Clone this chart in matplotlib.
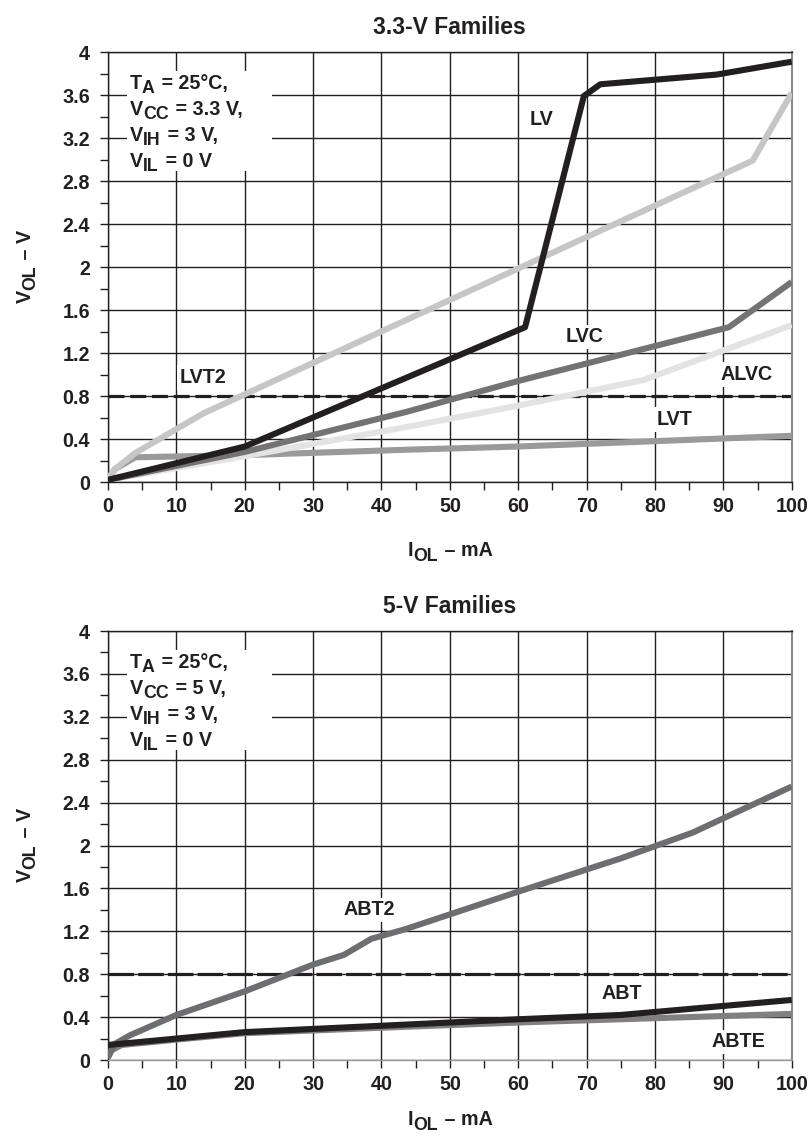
import matplotlib
matplotlib.use('Agg')
import matplotlib.pyplot as plt
import numpy as np
from matplotlib.patches import Rectangle
from matplotlib.transforms import Affine2D

plt.rcParams['font.family'] = ['Liberation Sans', 'DejaVu Sans']
plt.rcParams['font.weight'] = 'bold'

# 3.3-V families, I_OL (mA) vs V_OL (V)
lv_i = [0, 20, 61, 69.6, 72, 89, 100]
lv_v = [0.02, 0.33, 1.44, 3.59, 3.70, 3.79, 3.91]
lvt2_i = [0, 1, 4, 14, 94.3, 100]
lvt2_v = [0.03, 0.12, 0.27, 0.64, 2.99, 3.62]
lvc_i = [0, 20, 43.5, 60, 90.8, 100]
lvc_v = [0.02, 0.28, 0.65, 0.94, 1.44, 1.86]
alvc_i = [0, 20, 43.5, 60, 78.4, 100]
alvc_v = [0.02, 0.24, 0.51, 0.71, 0.95, 1.46]
lvt_i = [0, 1, 4, 20, 43.5, 60, 80, 100]
lvt_v = [0.02, 0.12, 0.23, 0.25, 0.30, 0.33, 0.38, 0.43]

# 5-V families
abt2_i = [0, 1, 3.2, 10, 20, 30, 34.5, 38.5, 43.5, 60, 75, 85.5, 100]
abt2_v = [0.03, 0.15, 0.23, 0.42, 0.64, 0.89, 0.98, 1.13, 1.22, 1.57, 1.88, 2.12, 2.55]
abt_i = [0, 10, 20, 43.5, 60, 75, 100]
abt_v = [0.14, 0.20, 0.26, 0.33, 0.38, 0.42, 0.56]
abte_i = [0, 0.5, 2, 10, 20, 43.5, 60, 75, 100]
abte_v = [0.02, 0.09, 0.14, 0.19, 0.25, 0.31, 0.35, 0.38, 0.43]

vil_limit = 0.8

x_ticks = np.arange(0, 101, 10)
y_ticks = np.arange(0, 4.01, 0.4)
y_ticklabels = ['0', '0.4', '0.8', '1.2', '1.6', '2', '2.4', '2.8', '3.2', '3.6', '4']

BLACK = '#231f20'
FS = 14.2

fig = plt.figure(figsize=(8.12, 11.36), dpi=100)
renderer = fig.canvas.get_renderer()


def rich_text(ax, x, y, pieces, transform, rotation=0, center=False):
    # lay out text pieces side by side, subscripts dropped below the baseline
    texts = []
    widths = []
    for s, sub in pieces:
        size = FS * 0.9 if sub else FS
        t = ax.text(x, y, s, fontsize=size, fontweight='bold', color=BLACK,
                    transform=transform, ha='left', va='baseline',
                    rotation=rotation, rotation_mode='anchor', zorder=6)
        bb = t.get_window_extent(renderer)
        widths.append(bb.height if rotation == 90 else bb.width)
        texts.append((t, sub))
    pos = -sum(widths) / 2 if center else 0
    for (t, sub), w in zip(texts, widths):
        drop = FS * 0.32 if sub else 0
        if rotation == 90:
            shift = Affine2D().translate(drop, pos)
        else:
            shift = Affine2D().translate(pos, -drop)
        t.set_transform(transform + shift)
        pos += w + (1 if sub else 0)


def setup_axes(ax, title, xlabel_y):
    ax.set_xlim(0, 100)
    ax.set_ylim(0, 4)
    ax.set_xticks(x_ticks)
    ax.set_xticks(np.arange(0, 101, 5), minor=True)
    ax.set_yticks(y_ticks)
    ax.set_yticks(np.arange(0, 4.01, 0.2), minor=True)
    ax.set_yticklabels(y_ticklabels)
    ax.tick_params(which='both', direction='out', length=6, width=1.0, color=BLACK,
                   labelsize=FS)
    ax.tick_params(axis='y', pad=7)
    ax.tick_params(axis='x', pad=5)
    for lab in ax.get_xticklabels() + ax.get_yticklabels():
        lab.set_fontweight('bold')
        lab.set_color(BLACK)
    ax.grid(True, which='major', color=BLACK, linewidth=1.0)
    ax.set_axisbelow(True)
    for side in ['left', 'top', 'bottom']:
        ax.spines[side].set_color(BLACK)
        ax.spines[side].set_linewidth(1.0)
    ax.spines['right'].set_color('#8a8a8a')
    ax.spines['right'].set_linewidth(1.5)
    ax.set_title(title, fontsize=16.5, fontweight='bold', color=BLACK, pad=13)
    rich_text(ax, -0.113, 0.5, [('V', False), ('OL', True), (' – V', False)],
              ax.transAxes, rotation=90, center=True)
    rich_text(ax, 0.5, xlabel_y, [('I', False), ('OL', True), (' – mA', False)],
              ax.transAxes, center=True)


def curve_label(ax, x, y, s):
    ax.text(x, y, s, fontsize=FS, fontweight='bold', color=BLACK, ha='left', va='center',
            zorder=3, bbox=dict(facecolor='white', edgecolor='none', pad=2))


def conditions(ax, vcc):
    ax.add_patch(Rectangle((2.8, 2.89), 21.2, 0.93, facecolor='white', edgecolor='none',
                           zorder=2.8))
    lines = [
        [('T', False), ('A', True), (' = 25°C,', False)],
        [('V', False), ('CC', True), (' = ' + vcc + ' V,', False)],
        [('V', False), ('IH', True), (' = 3 V,', False)],
        [('V', False), ('IL', True), (' = 0 V', False)],
    ]
    for k, pieces in enumerate(lines):
        rich_text(ax, 3.2, 3.66 - 0.243 * k, pieces, ax.transData)


ax1 = fig.add_axes([0.133, 0.5757, 0.842, 0.3785])
ax2 = fig.add_axes([0.133, 0.0669, 0.842, 0.3776])

# top chart
setup_axes(ax1, '3.3-V Families', -0.172)
lw = 4.4
ax1.axhline(vil_limit, color=BLACK, linewidth=2.3, dashes=(5, 1.8), zorder=2.5)
ax1.plot(lvt_i, lvt_v, color='#9a9a9c', linewidth=lw, zorder=4, solid_capstyle='butt')
ax1.plot(alvc_i, alvc_v, color='#e3e3e4', linewidth=lw, zorder=4, solid_capstyle='butt')
ax1.plot(lvc_i, lvc_v, color='#737376', linewidth=lw, zorder=4, solid_capstyle='butt')
ax1.plot(lvt2_i, lvt2_v, color='#c6c6c7', linewidth=lw, zorder=4, solid_capstyle='butt')
ax1.plot(lv_i, lv_v, color=BLACK, linewidth=lw, zorder=5, solid_capstyle='butt')
curve_label(ax1, 61.6, 3.37, 'LV')
curve_label(ax1, 10.5, 0.97, 'LVT2')
curve_label(ax1, 67, 1.35, 'LVC')
curve_label(ax1, 89.6, 1.0, 'ALVC')
curve_label(ax1, 80.3, 0.58, 'LVT')
conditions(ax1, '3.3')

# bottom chart
setup_axes(ax2, '5-V Families', -0.152)
ax2.spines['bottom'].set_color('#9a9a9a')
ax2.axhline(vil_limit, color=BLACK, linewidth=2.3, dashes=(8, 1.3), zorder=2.5)
ax2.plot(abte_i, abte_v, color='#808083', linewidth=lw, zorder=4, solid_capstyle='butt')
ax2.plot(abt_i, abt_v, color=BLACK, linewidth=lw, zorder=5, solid_capstyle='butt')
ax2.plot(abt2_i, abt2_v, color='#6d6e71', linewidth=lw, zorder=4, solid_capstyle='butt')
curve_label(ax2, 34.4, 1.40, 'ABT2')
curve_label(ax2, 72.2, 0.62, 'ABT')
curve_label(ax2, 88.2, 0.17, 'ABTE')
conditions(ax2, '5')

fig.savefig('out.png', dpi=100)
